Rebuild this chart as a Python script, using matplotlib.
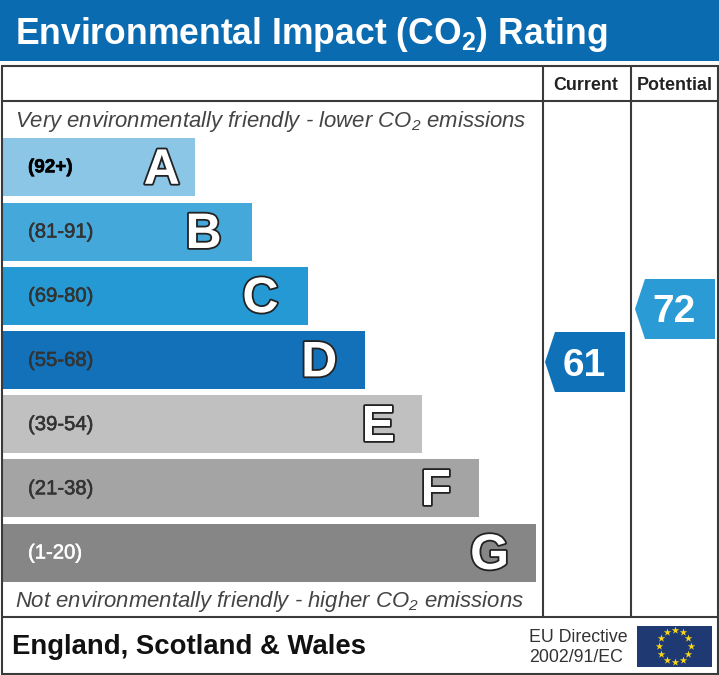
import numpy as np
import matplotlib
matplotlib.use("Agg")
import matplotlib.pyplot as plt
import matplotlib.patheffects as pe
from matplotlib.patches import Polygon, Rectangle

plt.rcParams['font.family'] = ['Liberation Sans', 'DejaVu Sans']
plt.rcParams['mathtext.default'] = 'regular'

title = 'Environmental Impact (CO$_2$) Rating'
top_note = 'Very environmentally friendly - lower CO$_2$ emissions'
bottom_note = 'Not environmentally friendly - higher CO$_2$ emissions'
letters = ['A', 'B', 'C', 'D', 'E', 'F', 'G']
ranges = ['(92+)', '(81-91)', '(69-80)', '(55-68)', '(39-54)', '(21-38)', '(1-20)']
band_rank = [1, 2, 3, 4, 5, 6, 7]
band_colors = ['#8cc6e7', '#45a8da', '#2499d3', '#1271b8', '#bfc0bf', '#a3a4a3', '#858685']
current_value = 61
potential_value = 72
region = 'England, Scotland & Wales'
directive = ['EU Directive', '2002/91/EC']

NAVY = '#0b6bb1'
LINE = '#3a3a3a'
letter_inset = {'A': 33, 'B': 48, 'C': 48, 'D': 46, 'E': 44, 'F': 43, 'G': 46}

fig = plt.figure(figsize=(7.19, 6.75), dpi=100)
ax = fig.add_axes([0, 0, 1, 1])
ax.set_xlim(0, 719)
ax.set_ylim(675, 0)
ax.axis('off')

# header
ax.add_patch(Rectangle((0, 0), 719, 61, color=NAVY, lw=0))
ax.text(15, 34, title, color='white', fontsize=25.6, fontweight='bold', va='center', ha='left')

# frame
for y in (65.5, 101, 617, 673.5):
    ax.plot([0.5, 718.5], [y, y], color=LINE, lw=1.5, solid_capstyle='butt')
for x in (1.5, 542.5, 630.5, 718):
    ax.plot([x, x], [65, 617] if x not in (1.5, 718) else [65, 674], color=LINE, lw=1.5, solid_capstyle='butt')

ax.text(585.5, 85.5, 'Current', fontsize=12.9, fontweight='bold', color='#222222', ha='center', va='center')
ax.text(674.5, 85.5, 'Potential', fontsize=12.9, fontweight='bold', color='#222222', ha='center', va='center')

ax.text(15, 121, top_note, fontsize=15.9, style='italic', color='#444444', va='center')
ax.text(15, 601, bottom_note, fontsize=15.9, style='italic', color='#444444', va='center')

# bands
for i, (rank, letter, rng, col) in enumerate(zip(band_rank, letters, ranges, band_colors)):
    top = 138.3 + 64.2 * i
    right = 138 + 56.8 * rank
    ax.add_patch(Rectangle((2.5, top), right - 2.5, 58, color=col, lw=0))
    rc = 'black' if i == 0 else ('white' if i == 6 else '#333333')
    ax.text(28, top + 29.5, rng, fontsize=14.6 if i else 13.6, fontweight='bold' if i == 0 else 'normal',
            color=rc, va='center', ha='left',
            path_effects=[pe.withStroke(linewidth=0.4, foreground=rc)])
    ax.text(right - letter_inset[letter], top + 32.5, letter, fontsize=36, fontweight='bold', color='white',
            va='center', ha='center',
            path_effects=[pe.withStroke(linewidth=2.6, foreground='#222222')])

# arrows
def arrow(x0, value, color):
    cy = 362 + (61 - value) * 4.82
    pts = [(x0, cy), (x0 + 10, cy - 30), (x0 + 80, cy - 30), (x0 + 80, cy + 30), (x0 + 10, cy + 30)]
    ax.add_patch(Polygon(pts, closed=True, color=color, lw=0))
    ax.text(x0 + 39.5, cy + 3.5, str(value), fontsize=28, fontweight='bold', color='white', ha='center', va='center')

arrow(545, current_value, '#0f71b8')
arrow(635, potential_value, '#2a9bd5')

# footer
ax.text(12, 646.5, region, fontsize=19.8, fontweight='bold', color='#111111', va='center')
ax.text(529, 637, directive[0], fontsize=12.8, color='#333333', va='center')
ax.text(529, 657, directive[1], fontsize=12.8, color='#333333', va='center')

# EU flag
ax.add_patch(Rectangle((637, 626), 75, 41, color='#1f3a72', lw=0))
ang = np.deg2rad(np.arange(0, 360, 30))
ax.scatter(674.5 + 16 * np.cos(ang), 646 + 16 * np.sin(ang), marker='*', s=32, color='#f7d51d', lw=0, zorder=3)

fig.savefig('out.png', dpi=100)
